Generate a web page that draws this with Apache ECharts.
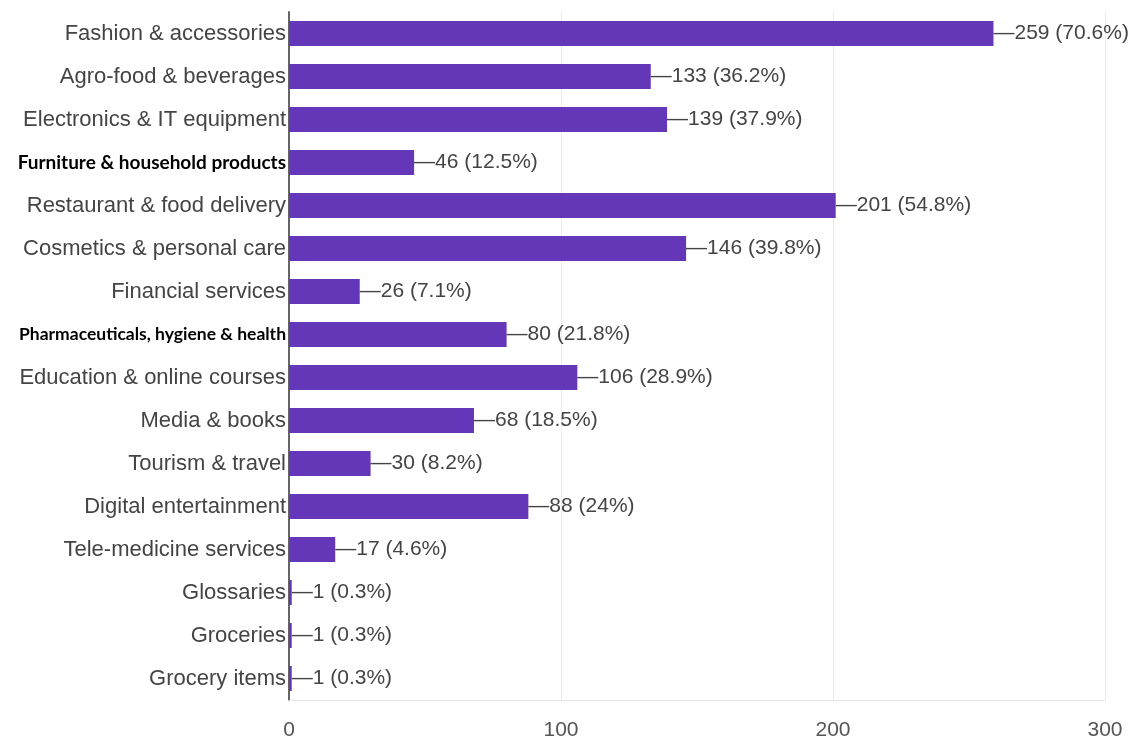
<!DOCTYPE html>
<html>
<head>
<meta charset="utf-8">
<script src="https://cdn.jsdelivr.net/npm/echarts@6/dist/echarts.min.js"></script>
<style>
  html, body { margin: 0; padding: 0; background: #fff; }
  #chart { width: 1142px; height: 751px; }
</style>
</head>
<body>
<div id="chart"></div>
<script>
// categories, top to bottom
const categories = [
  "Fashion & accessories",
  "Agro-food & beverages",
  "Electronics & IT equipment",
  "Furniture & household products",
  "Restaurant & food delivery",
  "Cosmetics & personal care",
  "Financial services",
  "Pharmaceuticals, hygiene & health",
  "Education & online courses",
  "Media & books",
  "Tourism & travel",
  "Digital entertainment",
  "Tele-medicine services",
  "Glossaries",
  "Groceries",
  "Grocery items",
];
const counts = [259, 133, 139, 46, 201, 146, 26, 80, 106, 68, 30, 88, 17, 1, 1, 1];
const percents = ["70.6", "36.2", "37.9", "12.5", "54.8", "39.8", "7.1", "21.8", "28.9", "18.5", "8.2", "24", "4.6", "0.3", "0.3", "0.3"];
const xTicks = [0, 100, 200, 300];

const baseFont = "'Liberation Sans Narrow', 'Liberation Sans', Arial, sans-serif";
const boldFont = "Lato, 'Open Sans', sans-serif";

// these two labels are set in a bold black font in the picture
function yLabel(v) {
  if (v === "Furniture & household products") return "{b1|" + v + "}";
  if (v === "Pharmaceuticals, hygiene & health") return "{b2|" + v + "}";
  return "{n|" + v + "}";
}

let chart = echarts.init(document.getElementById("chart"));
let options = {
  animation: false,
  grid: {
    left: 289,
    right: 37,
    top: 12,
    bottom: 51,
  },
  xAxis: {
    type: "value",
    min: xTicks[0],
    max: xTicks[xTicks.length - 1],
    interval: 100,
    axisLine: { show: true, lineStyle: { color: "#e6e6e6", width: 1 } },
    axisTick: { show: false },
    splitLine: { lineStyle: { color: "#ececec", width: 1 } },
    axisLabel: {
      color: "#555",
      fontSize: 21,
      fontFamily: baseFont,
      margin: 20,
    },
  },
  yAxis: {
    type: "category",
    inverse: true,
    data: categories,
    axisLine: { show: true, lineStyle: { color: "#666", width: 2 } },
    axisTick: { show: false },
    axisLabel: {
      margin: 3,
      formatter: yLabel,
      rich: {
        n: { color: "#444", fontSize: 22, fontFamily: baseFont },
        b1: { color: "#000", fontSize: 19, fontWeight: "bold", fontFamily: boldFont },
        b2: { color: "#000", fontSize: 17.5, fontWeight: "bold", fontFamily: boldFont },
      },
    },
  },
  series: [
    {
      type: "bar",
      data: counts,
      barWidth: 25,
      itemStyle: { color: "#6436b8" },
      label: {
        show: true,
        position: "right",
        distance: 0,
        color: "#444",
        fontSize: 21,
        fontFamily: baseFont,
        formatter: (p) => "\u2014" + p.value + " (" + percents[p.dataIndex] + "%)",
      },
    },
  ],
};
chart.setOption(options);
</script>
</body>
</html>
